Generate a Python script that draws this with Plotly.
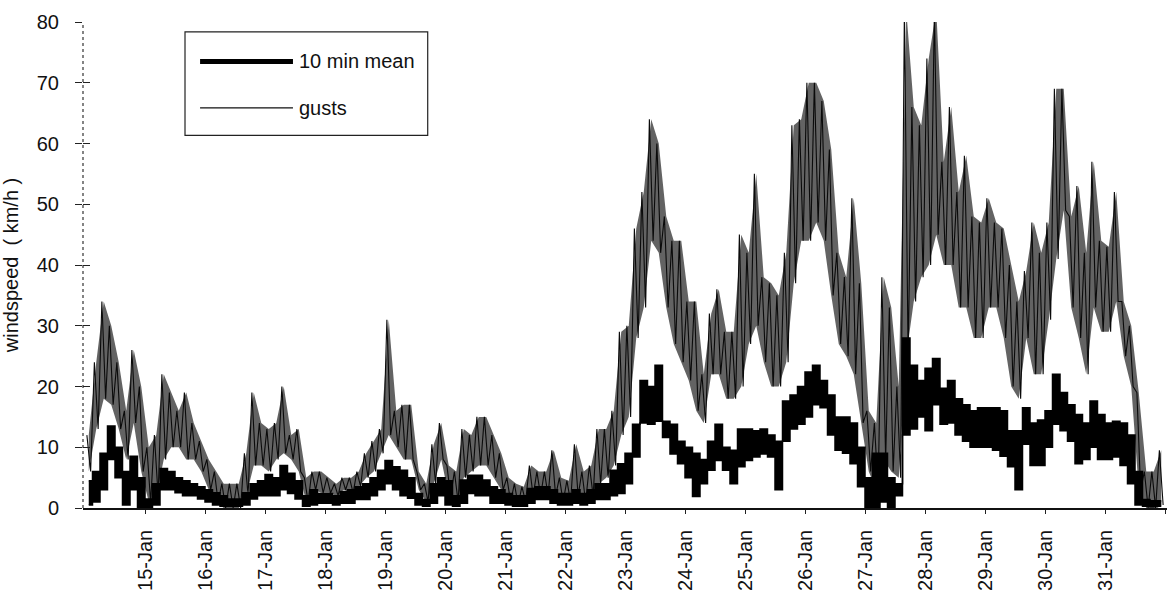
import plotly.graph_objects as go
import pandas as pd

# ---------------- data (3-hour bins from 14-Jan 00:00) -------------
start_time = "2000-01-14 00:00"
bin_hours = 3

# gusts: highest and lowest value seen in each 3-hour bin (km/h)
gust_hi = [12, 24, 34, 30, 24, 16, 26, 20,        # 14-Jan
           10, 12, 22, 19, 16, 19, 14, 11,        # 15-Jan
           8, 6, 4, 4, 4, 9, 19, 14,              # 16-Jan
           13, 14, 20, 12, 13, 5, 6, 6,           # 17-Jan
           5, 4, 5, 5, 6, 9, 11, 13,              # 18-Jan
           31, 16, 17, 17, 6, 4, 10.5, 14,        # 19-Jan
           7, 6, 13, 12, 15, 15, 12, 9,           # 20-Jan
           5, 4, 3.5, 7, 6, 6, 9.5, 5,            # 21-Jan
           4.5, 10.5, 6, 7, 13, 13, 16, 29,       # 22-Jan
           30, 46, 52, 64, 60, 48, 44, 44,        # 23-Jan
           34, 34, 22, 32, 36, 29, 29, 45,        # 24-Jan
           42, 55, 38, 37, 35, 42, 63, 64,        # 25-Jan
           70, 70, 67, 59, 42, 38, 51, 37,        # 26-Jan
           16, 14, 38, 33, 20, 82, 66, 63,        # 27-Jan
           74, 82, 57, 66, 52, 58, 48, 47,        # 28-Jan
           51, 47, 46, 40, 34, 39, 47, 42,        # 29-Jan
           47, 69, 69, 48, 53, 42, 57, 44,        # 30-Jan
           43, 52, 34, 30, 19, 6, 6, 9.5]         # 31-Jan
gust_lo = [6, 13, 18, 17, 13, 8, 14, 6,
           1, 2, 8, 10, 10, 8, 8, 6,
           3, 1, 0, 0, 0, 2, 7, 7,
           6, 8, 9, 8, 6, 1, 3, 2.5,
           2.5, 2, 3, 2.5, 3.5, 5, 6, 9,
           12, 10, 8, 8, 3, 1, 4, 8,
           2, 1, 5, 6, 7, 7, 5, 3,
           1, 0.5, 1, 2, 2, 2, 2, 1,
           1, 2, 1, 2, 4, 5, 7, 12,
           15, 28, 33, 44, 42, 33, 27, 24,
           21, 16, 14, 22, 22, 18, 18, 20,
           27, 30, 24, 20, 20, 24, 37, 44,
           44, 47, 44, 35, 27, 25, 22, 14,
           6, 3, 8, 6, 5, 25, 34, 38,
           40, 45, 40, 40, 33, 33, 28, 28,
           33, 33, 28, 20, 18, 28, 22, 22,
           31, 41, 49, 33, 28, 22, 33, 29,
           29, 34, 25, 20, 3, 0, 0, 0.5]

# 10 min mean: highest and lowest value in each 3-hour bin (km/h)
mean_hi = [4.5, 6, 9, 13.5, 10, 6, 8.5, 5,
           1.5, 4, 6.5, 6, 5, 4.5, 4, 3.5,
           3, 2.5, 2, 1.5, 1.5, 2.5, 4, 4.5,
           5.5, 5, 7, 5.7, 4.5, 2, 3, 2.4,
           2.4, 2, 2.7, 3, 3.5, 4, 5, 6.2,
           7.8, 6.8, 6.2, 5, 2.4, 1.4, 4, 5,
           4.5, 2, 4.6, 5.4, 5.4, 4.6, 3.5, 3,
           2.4, 2, 2, 3.2, 3.5, 3.5, 3, 2.4,
           2.4, 3, 2.4, 3, 4, 4, 6.2, 7.3,
           9, 13.8, 21, 20, 23.5, 14.3, 13.8, 11,
           10, 9, 8, 11, 13.8, 10, 9.5, 13,
           13, 12.7, 13, 12, 11, 17.6, 18.6, 20,
           22.4, 23.5, 21, 18.6, 15, 15, 14, 10,
           5, 9, 9, 5, 4, 28, 23.5, 21,
           23, 24.6, 19.7, 21, 18, 17, 16, 16.5,
           16.5, 16.5, 16, 12.7, 12.7, 16.5, 14, 14.5,
           16, 22, 19, 17, 15.4, 14, 17.6, 15.4,
           14, 14.3, 14, 12, 6, 1.4, 1.2, 1.2]
mean_lo = [0.5, 1, 3, 8, 5, 0.5, 3, 0,
           0, 0.5, 3, 3, 2.5, 2, 2, 1.5,
           1, 0.5, 0.3, 0.3, 0.3, 0.5, 1.5, 2,
           2, 2, 3, 2.4, 1.5, 0.3, 0.5, 0.8,
           0.8, 0.5, 0.8, 0.8, 1.4, 1.4, 2, 3,
           4, 3, 2, 1.6, 0.5, 0.3, 0.8, 2,
           0.5, 0.3, 0.8, 2.4, 2, 2, 0.8, 0.8,
           0.5, 0.3, 0.3, 0.8, 1.4, 1.4, 0.8, 0.5,
           0.5, 0.8, 0.5, 0.8, 1.4, 1.4, 2, 2.4,
           4, 8.4, 14, 13.8, 14.3, 11.6, 8.9, 7.3,
           5, 1.9, 4, 6.2, 7.8, 6.2, 4, 6.8,
           7.8, 8.4, 8.9, 8.4, 3, 11, 13, 13.8,
           15, 17, 16.5, 12, 9.5, 9, 7.3, 3.5,
           0, 0, 1, 0, 2, 12, 13, 15,
           12.7, 17, 13.8, 14, 12, 11, 10, 10,
           10, 9.5, 8.5, 6.8, 3, 10.5, 7, 7,
           10, 13.8, 12.7, 11, 7.3, 8, 10, 8,
           8, 8.4, 7, 4, 0.5, 0.3, 0.2, 0.3]

x_tick_labels = ["15-Jan", "16-Jan", "17-Jan", "18-Jan", "19-Jan", "20-Jan", "21-Jan",
                 "22-Jan", "23-Jan", "24-Jan", "25-Jan", "26-Jan", "27-Jan", "28-Jan",
                 "29-Jan", "30-Jan", "31-Jan", "01-Feb"]
y_tick_values = [0, 10, 20, 30, 40, 50, 60, 70, 80]

series_names = ["10 min mean", "gusts"]
y_title = "windspeed\u00a0\u00a0( km/h )"

# ---------------- build traces ----------------
t0 = pd.Timestamp(start_time)
bin_centres = [t0 + pd.Timedelta(hours=bin_hours * k + bin_hours / 2) for k in range(len(gust_hi))]


def zigzag(hi, lo):
    xs, ys = [], []
    for k, (h, l) in enumerate(zip(hi, lo)):
        b = t0 + pd.Timedelta(hours=bin_hours * k)
        xs += [b + pd.Timedelta(minutes=45), b + pd.Timedelta(minutes=135)]
        ys += [h, l]
    return xs, ys


gx, gy = zigzag(gust_hi, gust_lo)

FONT = "Liberation Sans, Arial, Helvetica, sans-serif"

fig = go.Figure()
# gusts: shaded envelope of the dense trace, with the thin trace drawn over it
fig.add_trace(go.Scatter(x=bin_centres, y=gust_lo, mode="lines",
                         line=dict(color="rgba(0,0,0,0)", width=0),
                         showlegend=False, hoverinfo="skip"))
fig.add_trace(go.Scatter(x=bin_centres, y=gust_hi, mode="lines",
                         line=dict(color="rgba(0,0,0,0)", width=0),
                         fill="tonexty", fillcolor="rgba(25,25,25,0.68)",
                         showlegend=False, hoverinfo="skip"))
fig.add_trace(go.Scatter(x=gx, y=gy, mode="lines", name=series_names[1],
                         line=dict(color="#0a0a0a", width=1.1), hoverinfo="skip"))
# 10 min mean: solid black blocky band
fig.add_trace(go.Scatter(x=bin_centres, y=mean_lo, mode="lines",
                         line=dict(color="#000", width=1.5, shape="hvh"),
                         showlegend=False, hoverinfo="skip"))
fig.add_trace(go.Scatter(x=bin_centres, y=mean_hi, mode="lines", name=series_names[0],
                         line=dict(color="#000", width=1.5, shape="hvh"),
                         fill="tonexty", fillcolor="#000", hoverinfo="skip"))
# helper trace so the inside-tick overlay axis is drawn
fig.add_trace(go.Scatter(x=[bin_centres[0]], y=[None], yaxis="y2", mode="lines",
                         showlegend=False, hoverinfo="skip"))

tickvals = [pd.Timestamp(lbl + "-2000") for lbl in x_tick_labels]

fig.update_layout(
    width=1174, height=598,
    margin=dict(l=83, r=7, t=22, b=83),
    paper_bgcolor="white", plot_bgcolor="white",
    showlegend=False,
    font=dict(family=FONT, size=20, color="#111111"),
    xaxis=dict(
        type="date",
        range=["2000-01-13 23:12", "2000-02-01 00:48"],
        tickvals=tickvals, ticktext=x_tick_labels, tickangle=-90,
        ticks="outside", ticklen=4, tickcolor="#222", tickwidth=1,
        showline=True, linecolor="#111", linewidth=1.5,
        showgrid=False, zeroline=False,
        tickfont=dict(family=FONT, size=20, color="#111"),
        ticklabelstandoff=8,
    ),
    yaxis=dict(
        range=[0, 80], tickvals=y_tick_values,
        ticks="outside", ticklen=7, tickcolor="#222", tickwidth=1,
        showline=False, showgrid=False, zeroline=False,
        tickfont=dict(family=FONT, size=20, color="#111"),
        ticklabelstandoff=12,
        title=dict(text=y_title, font=dict(family=FONT, size=20, color="#111"), standoff=14),
    ),
    yaxis2=dict(
        range=[0, 80], tickvals=y_tick_values, overlaying="y", side="left",
        ticks="inside", ticklen=7, tickcolor="#222", tickwidth=1,
        showticklabels=False, showline=False, showgrid=False, zeroline=False,
    ),
)

# dotted vertical axis line
fig.add_shape(type="line", xref="paper", yref="paper", x0=0, x1=0, y0=0, y1=1,
              line=dict(color="#333", width=1.2, dash="dot"), layer="below")

# legend box drawn to match the reference layout
fig.add_shape(type="rect", xref="paper", yref="paper", x0=0.0941, x1=0.318,
              y0=0.7667, y1=0.9797, line=dict(color="#222", width=1.2), fillcolor="white",
              layer="above")
fig.add_shape(type="line", xref="paper", yref="paper", x0=0.108, x1=0.1937,
              y0=0.9189, y1=0.9189, line=dict(color="#000", width=5))
fig.add_shape(type="line", xref="paper", yref="paper", x0=0.108, x1=0.1937,
              y0=0.8235, y1=0.8235, line=dict(color="#111", width=1.3))
fig.add_annotation(xref="paper", yref="paper", x=0.1975, y=0.9189, xanchor="left",
                   yanchor="middle", text=series_names[0], showarrow=False,
                   font=dict(family=FONT, size=20, color="#111"))
fig.add_annotation(xref="paper", yref="paper", x=0.1975, y=0.8235, xanchor="left",
                   yanchor="middle", text=series_names[1], showarrow=False,
                   font=dict(family=FONT, size=20, color="#111"))

fig.write_html("out.html", config={"displayModeBar": False},
               post_script="document.body.style.margin='0';")
